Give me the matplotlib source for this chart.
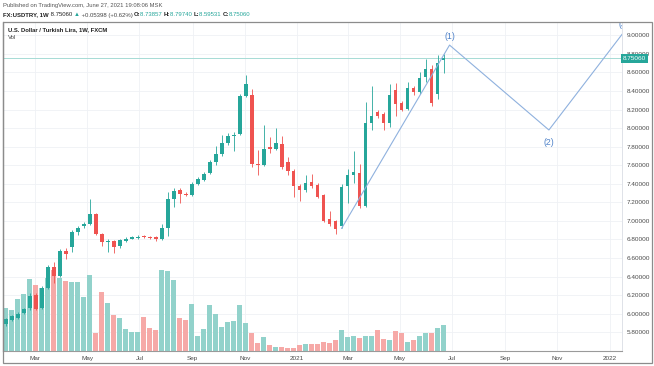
import matplotlib
matplotlib.use('Agg')
import matplotlib.pyplot as plt
import numpy as np
import pandas as pd
from matplotlib.patches import Rectangle

plt.rcParams['font.family'] = ['Liberation Sans', 'DejaVu Sans']

# недельные свечи USDTRY (FXCM)
dates = pd.date_range('2020-01-27', periods=74, freq='7D')
opens = [5.89, 5.93, 5.95, 6.01, 6.06, 6.20, 6.06, 6.28, 6.50, 6.41,
         6.68, 6.72, 6.88, 6.95, 6.97, 7.07, 6.86, 6.77, 6.78, 6.73,
         6.78, 6.81, 6.82, 6.835, 6.83, 6.83, 6.80, 6.92, 7.24, 7.33,
         7.29, 7.28, 7.40, 7.44, 7.52, 7.63, 7.72, 7.84, 7.91, 7.94,
         8.35, 8.36, 7.61, 7.60, 7.79, 7.78, 7.83, 7.64, 7.54, 7.38,
         7.33, 7.42, 7.39, 7.28, 7.02, 7.00, 6.94, 7.38, 7.50, 7.52,
         7.16, 8.06, 8.17, 8.15, 8.05, 8.41, 8.27, 8.21, 8.43, 8.39,
         8.55, 8.64, 8.37, 8.73857]
highs = [5.95, 5.99, 6.02, 6.06, 6.22, 6.22, 6.30, 6.52, 6.56, 6.70,
         6.71, 6.90, 6.95, 6.99, 7.24, 7.08, 6.87, 6.80, 6.79, 6.81,
         6.83, 6.84, 6.85, 6.85, 6.84, 6.84, 6.97, 7.31, 7.35, 7.36,
         7.31, 7.42, 7.47, 7.53, 7.66, 7.81, 7.93, 7.95, 7.96, 8.37,
         8.57, 8.42, 7.76, 8.03, 7.90, 8.00, 7.91, 7.69, 7.56, 7.40,
         7.49, 7.51, 7.41, 7.29, 7.11, 7.01, 7.40, 7.56, 7.75, 7.61,
         8.28, 8.45, 8.20, 8.17, 8.48, 8.49, 8.29, 8.50, 8.45, 8.61,
         8.74, 8.68, 8.79, 8.79740]
lows = [5.87, 5.92, 5.94, 6.00, 6.04, 6.04, 6.05, 6.27, 6.33, 6.40,
        6.59, 6.67, 6.85, 6.92, 6.96, 6.85, 6.73, 6.67, 6.65, 6.71,
        6.77, 6.80, 6.81, 6.82, 6.81, 6.78, 6.79, 6.84, 7.15, 7.19,
        7.27, 7.27, 7.39, 7.43, 7.51, 7.60, 7.70, 7.82, 7.75, 7.93,
        8.34, 7.58, 7.49, 7.59, 7.73, 7.76, 7.56, 7.49, 7.26, 7.21,
        7.31, 7.36, 7.25, 6.99, 6.95, 6.86, 6.92, 7.19, 7.41, 7.14,
        7.15, 7.98, 8.11, 7.98, 8.01, 8.13, 8.18, 8.19, 8.36, 8.37,
        8.50, 8.24, 8.31, 8.59531]
closes = [5.94, 5.97, 6.00, 6.05, 6.19, 6.05, 6.28, 6.50, 6.41, 6.68,
          6.64, 6.88, 6.92, 6.97, 7.07, 6.86, 6.77, 6.78, 6.72, 6.79,
          6.81, 6.82, 6.83, 6.825, 6.82, 6.80, 6.92, 7.24, 7.32, 7.29,
          7.28, 7.40, 7.45, 7.51, 7.63, 7.72, 7.84, 7.91, 7.93, 8.35,
          8.48, 7.61, 7.60, 7.77, 7.78, 7.84, 7.58, 7.54, 7.38, 7.33,
          7.41, 7.38, 7.26, 7.00, 6.97, 6.91, 7.37, 7.49, 7.53, 7.16,
          8.06, 8.13, 8.13, 8.05, 8.36, 8.26, 8.20, 8.43, 8.39, 8.54,
          8.64, 8.27, 8.70, 8.75060]
volumes = [130, 123, 155, 172, 217, 197, 188, 220, 242, 220,
           210, 208, 206, 163, 227, 55, 177, 145, 108, 100,
           67, 56, 56, 102, 70, 62, 242, 239, 213, 98,
           94, 140, 44, 65, 138, 110, 73, 86, 89, 137,
           84, 55, 25, 41, 18, 12, 13, 10, 10, 17,
           20, 20, 20, 26, 25, 34, 63, 41, 46, 38,
           44, 46, 63, 36, 34, 59, 55, 26, 32, 44,
           55, 54, 70, 79]

# разметка волн Эллиотта
wave_dates = pd.to_datetime(['2021-02-22', '2021-06-28', '2021-10-22', '2022-01-17'])
wave_prices = [6.92, 8.895, 7.98, 9.03]
wave_labels = ['', '(1)', '(2)', '(3)']

month_ticks = pd.to_datetime(['2020-03-01', '2020-05-01', '2020-07-01', '2020-09-01',
                              '2020-11-01', '2021-01-01', '2021-03-01', '2021-05-01',
                              '2021-07-01', '2021-09-01', '2021-11-01', '2022-01-01'])
month_labels = ['Mar', 'May', 'Jul', 'Sep', 'Nov', '2021',
                'Mar', 'May', 'Jul', 'Sep', 'Nov', '2022']
price_ticks = np.round(np.arange(5.8, 9.01, 0.2), 2)
last_price = 8.75060

GREEN = '#26a69a'
RED = '#ef5350'
W, H = 654, 366


def px(x0, y0, x1, y1):
    return [x0 / W, 1 - y1 / H, (x1 - x0) / W, (y1 - y0) / H]


fig = plt.figure(figsize=(6.54, 3.66), dpi=100)
axv = fig.add_axes(px(3.3, 21.7, 621.7, 351))
ax = fig.add_axes(px(3.3, 21.7, 621.7, 351), sharex=axv)
ax.patch.set_visible(False)

ylo, yhi = 5.598, 9.147
xlo, xhi = pd.Timestamp('2020-01-24'), pd.Timestamp('2022-01-15')

opens = np.array(opens)
closes = np.array(closes)
up = closes >= opens
colors = np.where(up, GREEN, RED)
vol_colors = np.where(up, '#92d2cb', '#f6a9a7')

# сетка и объёмы (нижний слой)
for p in price_ticks:
    f = (p - ylo) / (yhi - ylo)
    axv.axhline(f * 988, color='#eff1f5', lw=0.6, zorder=0)
axv.bar(dates, volumes, width=6.0, color=vol_colors, zorder=2)
axv.set_ylim(0, 988)
axv.set_yticks([])
axv.set_xticks(month_ticks)
axv.grid(axis='x', color='#eff1f5', lw=0.6)
axv.set_axisbelow(True)
axv.tick_params(axis='x', length=0, labelbottom=False)
for s in axv.spines.values():
    s.set_visible(False)

# свечи
body_lo = np.minimum(opens, closes)
body_h = np.maximum(np.abs(closes - opens), 0.012)
ax.vlines(dates, lows, highs, colors=colors, lw=0.6, zorder=3)
ax.bar(dates, body_h, bottom=body_lo, width=4.3, color=colors, zorder=4)

# последняя цена
ax.axhline(last_price, color='#a6dbd5', lw=0.7, zorder=1)
ax.text(1.002, last_price, '8.75060', transform=ax.get_yaxis_transform(),
        ha='left', va='center', color='white', fontsize=4.6, clip_on=False,
        bbox=dict(boxstyle='square,pad=0.3', fc=GREEN, ec='none'), zorder=6)

# волны
ax.plot(wave_dates, wave_prices, color='#8fb1de', lw=0.8, zorder=5, clip_on=True)
for d, p, lab in zip(wave_dates, wave_prices, wave_labels):
    if not lab:
        continue
    off = 0.09 if lab != '(2)' else -0.13
    ax.text(d, p + off, lab, ha='center', va='center', fontsize=6.3,
            color='#4f82c9', zorder=6, clip_on=True)

ax.set_xlim(xlo, xhi)
ax.set_ylim(ylo, yhi)
ax.set_xticks(month_ticks)
ax.set_xticklabels(month_labels)
ax.set_yticks(price_ticks)
ax.set_yticklabels(['%.5f' % p for p in price_ticks])
ax.yaxis.tick_right()
ax.tick_params(axis='y', length=0, pad=3.5, labelsize=4.6, labelcolor='#4a4a4a')
ax.tick_params(axis='x', length=0, pad=3.5, labelsize=4.6, labelcolor='#4a4a4a')
ax.spines['top'].set_visible(False)
ax.spines['left'].set_color('#8c8c8c')
ax.spines['left'].set_linewidth(0.9)
ax.spines['bottom'].set_color('#9a9a9a')
ax.spines['bottom'].set_linewidth(0.8)
ax.spines['right'].set_color('#dfe2e8')
ax.spines['right'].set_linewidth(0.7)

# внешняя рамка
fig.patches.append(Rectangle((3.3 / W, 1 - 363 / H), (652 - 3.3) / W, (363 - 21.7) / H,
                             transform=fig.transFigure, fill=False,
                             ec='#8c8c8c', lw=0.9))

# подписи
fig.text(3 / W, 1 - 6 / H, 'Published on TradingView.com, June 27, 2021 19:08:06 MSK',
         fontsize=4.2, color='#555555', va='center')

pieces = [('FX:USDTRY, 1W', '#222222', 'bold'), (' 8.75060 ', '#222222', 'normal'),
          ('▲', GREEN, 'normal'), (' +0.05398 (+0.62%) ', '#444444', 'normal'),
          ('O:', '#222222', 'bold'), ('8.73857 ', GREEN, 'normal'),
          ('H:', '#222222', 'bold'), ('8.79740 ', GREEN, 'normal'),
          ('L:', '#222222', 'bold'), ('8.59531 ', GREEN, 'normal'),
          ('C:', '#222222', 'bold'), ('8.75060', GREEN, 'normal')]
renderer = fig.canvas.get_renderer()
x = 3
for txt, col, wt in pieces:
    t = fig.text(x / W, 1 - 15 / H, txt, fontsize=4.3, color=col, weight=wt,
                 va='center', family=['Liberation Sans', 'DejaVu Sans'])
    x += t.get_window_extent(renderer).width

fig.text(7.5 / W, 1 - 29.5 / H, 'U.S. Dollar / Turkish Lira, 1W, FXCM', fontsize=4.2,
         weight='bold', color='#222222', va='center')
fig.text(7.5 / W, 1 - 37.5 / H, 'Vol', fontsize=4.3, color='#444444', va='center')

fig.savefig('out.png', dpi=100, facecolor='white')
